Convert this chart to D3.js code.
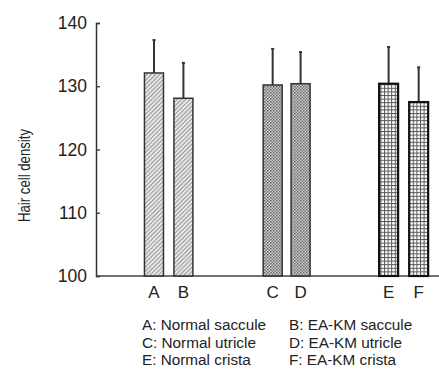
<!DOCTYPE html>
<html>
<head>
<meta charset="utf-8">
<script src="https://cdn.jsdelivr.net/npm/d3@7"></script>
<style>
  body { margin: 0; background: #fff; }
  svg { display: block; font-family: Arial, "Liberation Sans", sans-serif; }
</style>
</head>
<body>
<div id="chart"></div>
<script>
// bar data
const groups = ['A', 'B', 'C', 'D', 'E', 'F'];
const means = [132.1, 128.1, 130.2, 130.4, 130.4, 127.5];
const errors = [5.2, 5.6, 5.7, 5.0, 5.8, 5.5];
const fills = ['hatch', 'hatch', 'dots', 'dots', 'grid', 'grid'];
const yTicks = [100, 110, 120, 130, 140];
const legendRows = [
  ['A: Normal saccule', 'B: EA-KM saccule'],
  ['C: Normal utricle', 'D: EA-KM utricle'],
  ['E: Normal crista', 'F: EA-KM crista']
];

const W = 439, H = 372;
const MARGIN = { top: 23, right: 0, bottom: 96, left: 96 };

const svg = d3.select('#chart').append('svg')
  .attr('width', W).attr('height', H);

// patterns
const defs = svg.append('defs');
const hatch = defs.append('pattern').attr('id', 'hatch')
  .attr('patternUnits', 'userSpaceOnUse').attr('width', 3).attr('height', 3)
  .attr('patternTransform', 'rotate(45)');
hatch.append('rect').attr('width', 3).attr('height', 3).attr('fill', '#e6e6e6');
hatch.append('line').attr('x1', 0).attr('y1', 0).attr('x2', 0).attr('y2', 3)
  .attr('stroke', '#777').attr('stroke-width', 1.4);

const dots = defs.append('pattern').attr('id', 'dots')
  .attr('patternUnits', 'userSpaceOnUse').attr('width', 3).attr('height', 3);
dots.append('rect').attr('width', 3).attr('height', 3).attr('fill', '#d0d0d0');
dots.append('rect').attr('width', 1.5).attr('height', 1.5).attr('fill', '#666');
dots.append('rect').attr('x', 1.5).attr('y', 1.5).attr('width', 1.5).attr('height', 1.5).attr('fill', '#777');

const grid = defs.append('pattern').attr('id', 'grid')
  .attr('patternUnits', 'userSpaceOnUse').attr('width', 3.6).attr('height', 3.6);
grid.append('rect').attr('width', 3.6).attr('height', 3.6).attr('fill', '#fff');
grid.append('line').attr('x1', 0.5).attr('x2', 0.5).attr('y1', 0).attr('y2', 3.6)
  .attr('stroke', '#555').attr('stroke-width', 1);
grid.append('line').attr('y1', 0.5).attr('y2', 0.5).attr('x1', 0).attr('x2', 3.6)
  .attr('stroke', '#555').attr('stroke-width', 1);

const plotW = W - MARGIN.left - MARGIN.right;
const plotH = H - MARGIN.top - MARGIN.bottom;
const g = svg.append('g').attr('transform', `translate(${MARGIN.left},${MARGIN.top})`);

const y = d3.scaleLinear().domain([100, 140]).range([plotH, 0]);
// bar centres grouped in pairs with wide gaps between pairs
const x = d3.scaleLinear().domain([0, 11.3]).range([0, plotW]);
const slot = [1.91, 2.88, 5.82, 6.74, 9.64, 10.63];
const barW = 19;

// y axis, ticks pointing inward
const yAxis = g.append('g').call(d3.axisRight(y).tickValues(yTicks).tickSize(4).tickFormat(''));
yAxis.select('.domain').attr('stroke', '#333').attr('stroke-width', 1.5);
yAxis.selectAll('.tick line').attr('stroke', '#333').attr('stroke-width', 1.3);
g.selectAll('.ytl').data(yTicks).join('text')
  .attr('x', -9).attr('y', d => y(d)).attr('dy', '0.35em')
  .attr('text-anchor', 'end').style('font-size', '17.5px').style('fill', '#222')
  .text(d => d);

// x axis baseline
g.append('line').attr('x1', 0).attr('x2', plotW)
  .attr('y1', plotH).attr('y2', plotH)
  .attr('stroke', '#444').attr('stroke-width', 1.5);

// y label, anchored at its start so the squeeze keeps it in place
svg.append('text')
  .attr('transform', 'translate(30,222) rotate(-90)')
  .attr('text-anchor', 'start').style('font-size', '16px').style('fill', '#222')
  .attr('textLength', 93).attr('lengthAdjust', 'spacingAndGlyphs')
  .text('Hair cell density');

// error bars
groups.forEach((k, i) => {
  const cx = x(slot[i]);
  g.append('line').attr('x1', cx).attr('x2', cx)
    .attr('y1', y(means[i])).attr('y2', y(means[i] + errors[i]))
    .attr('stroke', '#333').attr('stroke-width', 2);
  g.append('line').attr('x1', cx - 1.5).attr('x2', cx + 1.5)
    .attr('y1', y(means[i] + errors[i])).attr('y2', y(means[i] + errors[i]))
    .attr('stroke', '#333').attr('stroke-width', 2);
});

// bars
groups.forEach((k, i) => {
  const cx = x(slot[i]);
  const thick = fills[i] === 'grid';
  g.append('rect')
    .attr('x', cx - barW / 2).attr('y', y(means[i]))
    .attr('width', barW).attr('height', plotH - y(means[i]))
    .attr('fill', `url(#${fills[i]})`)
    .attr('stroke', thick ? '#111' : '#333')
    .attr('stroke-width', thick ? 2.2 : 1.5);
  g.append('text')
    .attr('x', cx).attr('y', plotH + 22)
    .attr('text-anchor', 'middle').style('font-size', '17px').style('fill', '#222')
    .text(k);
});

// legend text block
const legX = [142, 289];
legendRows.forEach((row, r) => {
  row.forEach((t, c) => {
    svg.append('text')
      .attr('x', legX[c]).attr('y', 330 + r * 17.5)
      .style('font-size', '15.3px').style('fill', '#222')
      .text(t);
  });
});
</script>
</body>
</html>
